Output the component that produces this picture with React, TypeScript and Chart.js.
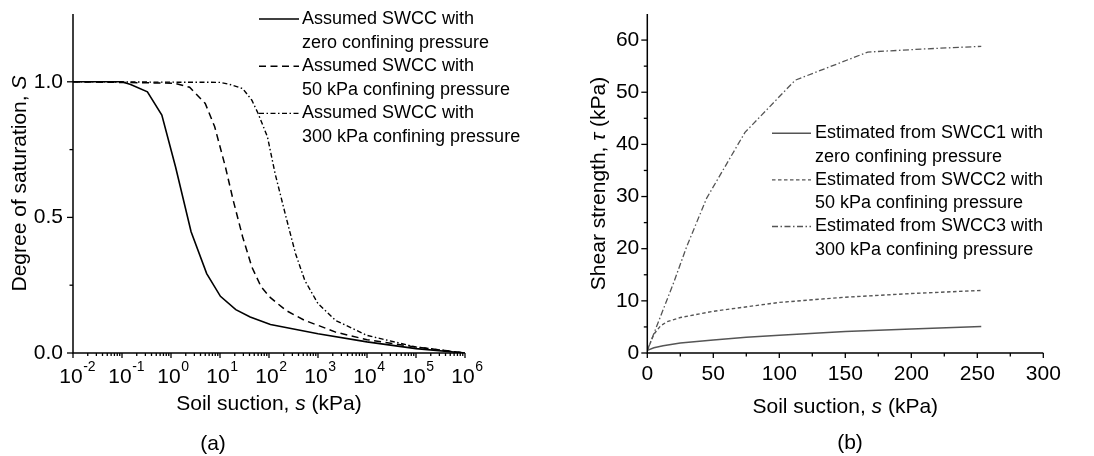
import React, { useEffect, useRef } from "react";
import { Chart, registerables } from "chart.js";
Chart.register(...registerables);

const FONT = '"Liberation Sans", Arial, Helvetica, sans-serif';
const FS = 21; // tick labels & axis titles
const FL = 18; // legend

// ---------- Panel (a): SWCC ----------
const swccZeroSuction = [0.01, 0.1, 0.15, 0.33, 0.65, 1.24, 2.57, 5.35, 10.2, 21, 41.3, 107, 1000, 10000, 100000, 1000000];
const swccZeroSaturation = [1.0, 1.0, 0.99, 0.963, 0.877, 0.686, 0.447, 0.293, 0.209, 0.16, 0.133, 0.105, 0.071, 0.041, 0.016, 0.0];
const swcc50Suction = [0.01, 1.15, 2.4, 5, 7.8, 12.9, 18.6, 29, 44.7, 69, 107, 222, 537, 1000, 2290, 10000, 100000, 1000000];
const swcc50Saturation = [1.0, 0.995, 0.98, 0.92, 0.834, 0.686, 0.563, 0.428, 0.317, 0.244, 0.204, 0.157, 0.12, 0.102, 0.077, 0.049, 0.022, 0.0];
const swcc300Suction = [0.01, 10, 16, 29, 44.7, 60, 93, 133, 222, 347, 537, 1000, 2290, 10000, 100000, 1000000];
const swcc300Saturation = [1.0, 0.998, 0.99, 0.975, 0.932, 0.883, 0.797, 0.662, 0.502, 0.367, 0.268, 0.182, 0.12, 0.065, 0.022, 0.0];
const suctionExponents = [-2, -1, 0, 1, 2, 3, 4, 5, 6];
const saturationTicks = [0.0, 0.5, 1.0];
const saturationMinorTicks = [0.25, 0.75];
const legendA = [
  ["Assumed SWCC with", "zero confining pressure"],
  ["Assumed SWCC with", "50 kPa confining pressure"],
  ["Assumed SWCC with", "300 kPa confining pressure"],
];

// ---------- Panel (b): shear strength ----------
const shear1Suction = [0, 5, 12, 25, 50, 75, 100, 150, 200, 253];
const shear1Strength = [0.5, 1.0, 1.4, 1.9, 2.5, 3.0, 3.4, 4.1, 4.6, 5.1];
const shear2Suction = [0, 5, 10, 15, 25, 50, 100, 150, 200, 253];
const shear2Strength = [0.5, 3.6, 5.2, 6.0, 6.8, 8.0, 9.7, 10.7, 11.4, 12.0];
const shear3Suction = [0, 10, 20, 30, 45, 74, 112, 167, 210, 253];
const shear3Strength = [0.5, 7.0, 13.5, 20.5, 29.7, 42.3, 52.3, 57.7, 58.3, 58.8];
const shearXTicks = [0, 50, 100, 150, 200, 250, 300];
const shearXMinor = [25, 75, 125, 175, 225, 275];
const shearYTicks = [0, 10, 20, 30, 40, 50, 60];
const shearYMinor = [5, 15, 25, 35, 45, 55];
const legendB = [
  ["Estimated from SWCC1 with", "zero confining pressure"],
  ["Estimated from SWCC2 with", "50 kPa confining pressure"],
  ["Estimated from SWCC3 with", "300 kPa confining pressure"],
];

type Part = { t: string; italic?: boolean };

function font(size: number, italic = false) {
  return `${italic ? "italic " : ""}${size}px ${FONT}`;
}

function drawMixed(ctx: CanvasRenderingContext2D, parts: Part[], cx: number, cy: number, size: number) {
  let total = 0;
  const widths = parts.map((p) => {
    ctx.font = font(size, p.italic);
    const w = ctx.measureText(p.t).width;
    total += w;
    return w;
  });
  let x = cx - total / 2;
  ctx.textBaseline = "middle";
  ctx.textAlign = "left";
  parts.forEach((p, i) => {
    ctx.font = font(size, p.italic);
    ctx.fillText(p.t, x, cy);
    x += widths[i];
  });
}

function drawLegend(
  ctx: CanvasRenderingContext2D,
  entries: string[][],
  styles: { dash: number[]; color: string; width: number }[],
  lx0: number,
  lx1: number,
  tx: number,
  y0: number,
  gap: number
) {
  let y = y0;
  entries.forEach((lines, i) => {
    const st = styles[i];
    ctx.save();
    ctx.strokeStyle = st.color;
    ctx.lineWidth = st.width;
    ctx.setLineDash(st.dash);
    ctx.beginPath();
    ctx.moveTo(lx0, y);
    ctx.lineTo(lx1, y);
    ctx.stroke();
    ctx.restore();
    ctx.fillStyle = "#000";
    ctx.font = font(FL);
    ctx.textAlign = "left";
    ctx.textBaseline = "middle";
    lines.forEach((ln) => {
      ctx.fillText(ln, tx, y);
      y += gap;
    });
  });
}

function axisFrame(ctx: CanvasRenderingContext2D, area: any) {
  ctx.save();
  ctx.strokeStyle = "#000";
  ctx.lineWidth = 1.5;
  ctx.setLineDash([]);
  ctx.beginPath();
  ctx.moveTo(area.left, area.top);
  ctx.lineTo(area.left, area.bottom);
  ctx.lineTo(area.right, area.bottom);
  ctx.stroke();
  ctx.restore();
}

function tickX(ctx: CanvasRenderingContext2D, x: number, yb: number, len: number) {
  ctx.beginPath();
  ctx.moveTo(x, yb);
  ctx.lineTo(x, yb + len);
  ctx.stroke();
}
function tickY(ctx: CanvasRenderingContext2D, xl: number, y: number, len: number) {
  ctx.beginPath();
  ctx.moveTo(xl, y);
  ctx.lineTo(xl - len, y);
  ctx.stroke();
}

const stylesA = [
  { dash: [], color: "#000", width: 1.6 },
  { dash: [7, 4.5], color: "#000", width: 1.5 },
  { dash: [5, 2.5, 1.5, 2.5], color: "#000", width: 1.4 },
];
const stylesB = [
  { dash: [], color: "#555", width: 1.5 },
  { dash: [3.5, 2.5], color: "#555", width: 1.4 },
  { dash: [6, 2.5, 1.5, 2.5], color: "#555", width: 1.3 },
];

const panelAPlugin = {
  id: "panelA",
  afterDraw(chart: any) {
    const ctx: CanvasRenderingContext2D = chart.ctx;
    const area = chart.chartArea;
    const xs = chart.scales.x;
    const ys = chart.scales.y;
    ctx.save();
    axisFrame(ctx, area);
    ctx.strokeStyle = "#000";
    ctx.lineWidth = 1.3;
    suctionExponents.forEach((e, i) => {
      const px = xs.getPixelForValue(Math.pow(10, e));
      tickX(ctx, px, area.bottom, 5);
      if (i < suctionExponents.length - 1) {
        for (let k = 2; k <= 9; k++) {
          tickX(ctx, xs.getPixelForValue(k * Math.pow(10, e)), area.bottom, 3);
        }
      }
      ctx.fillStyle = "#000";
      ctx.font = font(FS);
      ctx.textBaseline = "middle";
      ctx.textAlign = "center";
      const bx = px - 2;
      ctx.fillText("10", bx, 377);
      const w = ctx.measureText("10").width;
      ctx.font = font(14);
      ctx.textAlign = "left";
      ctx.fillText(String(e), bx + w / 2 + 0.5, 367);
    });
    saturationTicks.forEach((v) => {
      const py = ys.getPixelForValue(v);
      tickY(ctx, area.left, py, 6);
      ctx.fillStyle = "#000";
      ctx.font = font(FS);
      ctx.textAlign = "right";
      ctx.textBaseline = "middle";
      ctx.fillText(v.toFixed(1), area.left - 10, py);
    });
    saturationMinorTicks.forEach((v) => tickY(ctx, area.left, ys.getPixelForValue(v), 3.5));
    ctx.fillStyle = "#000";
    drawMixed(ctx, [{ t: "Soil suction, " }, { t: "s", italic: true }, { t: " (kPa)" }], (area.left + area.right) / 2, 404, FS);
    drawMixed(ctx, [{ t: "(a)" }], 213, 444, FS);
    ctx.save();
    ctx.translate(20, (area.top + area.bottom) / 2);
    ctx.rotate(-Math.PI / 2);
    drawMixed(ctx, [{ t: "Degree of saturation, " }, { t: "S", italic: true }], 0, 0, FS);
    ctx.restore();
    drawLegend(ctx, legendA, stylesA, 259, 299, 302, 19, 23.6);
    ctx.restore();
  },
};

const panelBPlugin = {
  id: "panelB",
  afterDraw(chart: any) {
    const ctx: CanvasRenderingContext2D = chart.ctx;
    const area = chart.chartArea;
    const xs = chart.scales.x;
    const ys = chart.scales.y;
    ctx.save();
    axisFrame(ctx, area);
    ctx.strokeStyle = "#000";
    ctx.lineWidth = 1.3;
    shearXTicks.forEach((v) => {
      const px = xs.getPixelForValue(v);
      tickX(ctx, px, area.bottom, 5);
      ctx.fillStyle = "#000";
      ctx.font = font(FS);
      ctx.textAlign = "center";
      ctx.textBaseline = "middle";
      ctx.fillText(String(v), px, 374);
    });
    shearXMinor.forEach((v) => tickX(ctx, xs.getPixelForValue(v), area.bottom, 3.5));
    shearYTicks.forEach((v) => {
      const py = ys.getPixelForValue(v);
      tickY(ctx, area.left, py, 6);
      ctx.fillStyle = "#000";
      ctx.font = font(FS);
      ctx.textAlign = "right";
      ctx.textBaseline = "middle";
      ctx.fillText(String(v), area.left - 8, py);
    });
    shearYMinor.forEach((v) => tickY(ctx, area.left, ys.getPixelForValue(v), 3.5));
    ctx.fillStyle = "#000";
    drawMixed(ctx, [{ t: "Soil suction, " }, { t: "s", italic: true }, { t: " (kPa)" }], (area.left + area.right) / 2, 407, FS);
    drawMixed(ctx, [{ t: "(b)" }], 850 - 547, 443, FS);
    ctx.save();
    ctx.translate(599 - 547, (area.top + area.bottom) / 2);
    ctx.rotate(-Math.PI / 2);
    drawMixed(ctx, [{ t: "Shear strength, " }, { t: "τ", italic: true }, { t: " (kPa)" }], 0, 0, FS);
    ctx.restore();
    drawLegend(ctx, legendB, stylesB, 772 - 547, 811 - 547, 815 - 547, 133.3, 23.3);
    ctx.restore();
  },
};

function pts(xs: number[], ys: number[]) {
  return xs.map((x, i) => ({ x, y: ys[i] }));
}

function ds(data: any[], st: { dash: number[]; color: string; width: number }) {
  return {
    data,
    showLine: true,
    borderColor: st.color,
    borderWidth: st.width,
    borderDash: st.dash,
    pointRadius: 0,
    fill: false,
    tension: 0,
  };
}

const W = 547;
const H = 456;

export default function App() {
  const refA = useRef<HTMLCanvasElement>(null);
  const refB = useRef<HTMLCanvasElement>(null);

  useEffect(() => {
    const common = {
      animation: false as const,
      responsive: false,
      devicePixelRatio: 1,
      plugins: { legend: { display: false }, tooltip: { enabled: false } },
      events: [] as any[],
    };
    const chartA = new Chart(refA.current!, {
      type: "scatter",
      data: {
        datasets: [
          ds(pts(swccZeroSuction, swccZeroSaturation), stylesA[0]),
          ds(pts(swcc50Suction, swcc50Saturation), stylesA[1]),
          ds(pts(swcc300Suction, swcc300Saturation), stylesA[2]),
        ],
      },
      options: {
        ...common,
        layout: { padding: { left: 73, right: W - 465, top: 14, bottom: H - 353 } },
        scales: {
          x: { type: "logarithmic", min: 0.01, max: 1e6, display: false },
          y: { type: "linear", min: 0, max: 1.25, display: false },
        },
      },
      plugins: [panelAPlugin],
    } as any);
    const chartB = new Chart(refB.current!, {
      type: "scatter",
      data: {
        datasets: [
          ds(pts(shear1Suction, shear1Strength), stylesB[0]),
          ds(pts(shear2Suction, shear2Strength), stylesB[1]),
          ds(pts(shear3Suction, shear3Strength), stylesB[2]),
        ],
      },
      options: {
        ...common,
        layout: { padding: { left: 647.3 - W, right: 2 * W - 1043.3, top: 14, bottom: H - 353 } },
        scales: {
          x: { type: "linear", min: 0, max: 300, display: false },
          y: { type: "linear", min: 0, max: 65, display: false },
        },
      },
      plugins: [panelBPlugin],
    } as any);
    return () => {
      chartA.destroy();
      chartB.destroy();
    };
  }, []);

  return (
    <div style={{ position: "fixed", left: 0, top: 0, width: 1094, height: 456, background: "#fff" }}>
      <canvas ref={refA} width={W} height={H} style={{ position: "absolute", left: 0, top: 0, width: W, height: H, display: "block" }} />
      <canvas ref={refB} width={W} height={H} style={{ position: "absolute", left: W, top: 0, width: W, height: H, display: "block" }} />
    </div>
  );
}
